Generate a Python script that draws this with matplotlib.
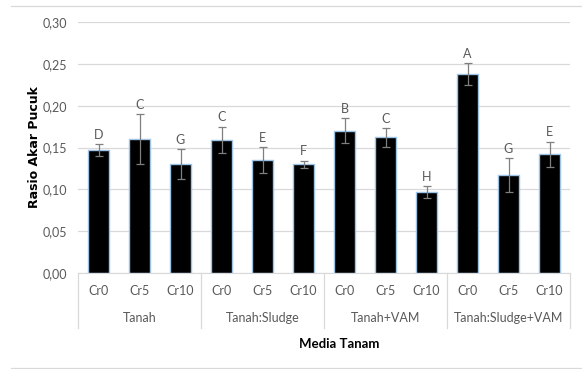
import matplotlib
matplotlib.use("Agg")
import matplotlib.pyplot as plt
from matplotlib.lines import Line2D

plt.rcParams['font.family'] = ['Lato', 'DejaVu Sans']

groups = ["Tanah", "Tanah:Sludge", "Tanah+VAM", "Tanah:Sludge+VAM"]
levels = ["Cr0", "Cr5", "Cr10"]
values = [0.147, 0.160, 0.130,
          0.159, 0.135, 0.130,
          0.170, 0.162, 0.097,
          0.238, 0.117, 0.142]
errors = [0.007, 0.030, 0.018,
          0.016, 0.015, 0.004,
          0.015, 0.011, 0.007,
          0.013, 0.020, 0.015]
letters = ["D", "C", "G",
           "C", "E", "F",
           "B", "C", "H",
           "A", "G", "E"]
yticks = [0.00, 0.05, 0.10, 0.15, 0.20, 0.25, 0.30]
ytick_labels = ["0,00", "0,05", "0,10", "0,15", "0,20", "0,25", "0,30"]

W, H = 582, 369
fig = plt.figure(figsize=(W / 100, H / 100), dpi=100)
ax = fig.add_axes([78 / W, 1 - 273 / H, (570 - 78) / W, (273 - 22) / H])

gray_txt = "#595959"
grid_c = "#d9d9d9"
n = len(values)
xs = list(range(n))

ax.bar(xs, values, width=0.5, color="black", edgecolor="#9dc3e6", linewidth=1.0, zorder=3)
ax.errorbar(xs, values, yerr=errors, fmt="none", ecolor="#7f7f7f", elinewidth=0.9,
            capsize=3, capthick=0.9, zorder=4)
for x, v, e, l in zip(xs, values, errors, letters):
    ax.annotate(l, (x, v + e), xytext=(0, 2.5), textcoords="offset points",
                ha="center", va="bottom", fontsize=9, color=gray_txt)

ax.set_xlim(-0.5, n - 0.5)
ax.set_ylim(0, 0.30)
ax.set_yticks(yticks)
ax.set_yticklabels(ytick_labels, fontsize=9, color=gray_txt)
ax.tick_params(axis="y", length=0, pad=8)
ax.set_xticks([])
ax.yaxis.grid(True, color=grid_c, linewidth=0.9, zorder=0)
for s in ["top", "right", "left"]:
    ax.spines[s].set_visible(False)
ax.spines["bottom"].set_color(grid_c)
ax.spines["bottom"].set_zorder(5)

trans = ax.get_xaxis_transform()
for x in xs:
    ax.annotate(levels[x % 3], (x, 0), xycoords=trans, xytext=(0, -13),
                textcoords="offset points", ha="center", va="center",
                fontsize=9, color=gray_txt, annotation_clip=False)
for gi, g in enumerate(groups):
    ax.annotate(g, (gi * 3 + 1, 0), xycoords=trans, xytext=(0, -32.5),
                textcoords="offset points", ha="center", va="center",
                fontsize=9, color=gray_txt, annotation_clip=False)
sep_depth = 55 / 251
for b in range(len(groups) + 1):
    ax.plot([b * 3 - 0.5, b * 3 - 0.5], [0, -sep_depth], transform=trans,
            color=grid_c, linewidth=0.9, clip_on=False)

fig.text(35 / W, 1 - 147 / H, "Rasio Akar Pucuk", rotation=90, ha="center", va="center",
         fontsize=9, fontweight="bold", color="black", family="DejaVu Sans")
fig.text(339 / W, 1 - 344 / H, "Media Tanam", ha="center", va="center",
         fontsize=9.5, fontweight="bold", color="black")

fig.add_artist(Line2D([11 / W, 1], [1 - 5.5 / H] * 2, transform=fig.transFigure,
                      color=grid_c, linewidth=0.9))
fig.add_artist(Line2D([11 / W, 1], [1 - 368 / H] * 2, transform=fig.transFigure,
                      color=grid_c, linewidth=0.9))

fig.savefig("out.png", dpi=100)
